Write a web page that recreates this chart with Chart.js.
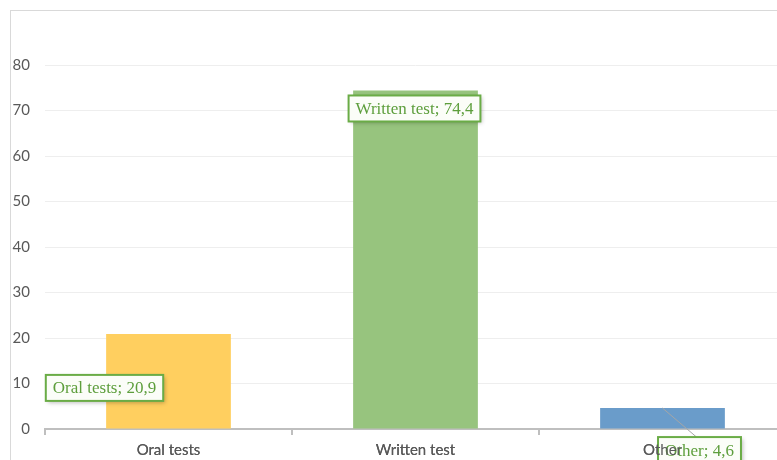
<!DOCTYPE html>
<html>
<head>
<meta charset="utf-8">
<script src="https://cdn.jsdelivr.net/npm/chart.js@4"></script>
<style>
  html, body { margin: 0; padding: 0; background: #fff; overflow: hidden; width: 777px; height: 460px; }
  #frame { position: absolute; left: 10px; top: 10px; width: 900px; height: 600px; border-left: 1px solid #d9d9d9; border-top: 1px solid #d9d9d9; }
  #wrap { position: absolute; left: 0; top: 0; width: 800px; height: 480px; }
</style>
</head>
<body>
<div id="frame"></div>
<div id="wrap"><canvas id="chart"></canvas></div>
<script>
// chart data
const categories = ['Oral tests', 'Written test', 'Other'];
const values = [20.9, 74.4, 4.6];
const barColors = ['#ffcf5f', '#97c47e', '#6a9cca'];
const yTicks = [0, 10, 20, 30, 40, 50, 60, 70, 80];

// callout labels like "Oral tests; 20,9"
const calloutPlugin = {
  id: 'callouts',
  afterDatasetsDraw(chart, args, opts) {
    const ctx = chart.ctx;
    const meta = chart.getDatasetMeta(0);
    ctx.save();
    ctx.font = opts.font;
    meta.data.forEach((bar, i) => {
      const text = categories[i] + '; ' + values[i].toFixed(1).replace('.', ',');
      const w = ctx.measureText(text).width + 14;
      const h = 26;
      const cx = bar.x + opts.offsets[i][0];
      const cy = bar.y + opts.offsets[i][1];
      if (opts.leader[i]) {
        ctx.strokeStyle = '#a6a6a6';
        ctx.lineWidth = 1;
        ctx.beginPath();
        ctx.moveTo(bar.x, bar.y);
        ctx.lineTo(cx - 3, cy - h / 2);
        ctx.stroke();
      }
      ctx.shadowColor = 'rgba(0,0,0,0.25)';
      ctx.shadowBlur = 4;
      ctx.shadowOffsetX = 2;
      ctx.shadowOffsetY = 2;
      ctx.fillStyle = '#fbfdf8';
      ctx.fillRect(cx - w / 2, cy - h / 2, w, h);
      ctx.shadowColor = 'transparent';
      ctx.strokeStyle = '#6aac46';
      ctx.lineWidth = 2;
      ctx.strokeRect(cx - w / 2, cy - h / 2, w, h);
      ctx.fillStyle = '#5d9e3c';
      ctx.textAlign = 'center';
      ctx.textBaseline = 'middle';
      ctx.fillText(text, cx, cy + 1);
    });
    ctx.restore();
    // the category labels sit on top of the callouts
    chart.scales.x.drawLabels(chart.chartArea);
  }
};

new Chart(document.getElementById('chart'), {
  type: 'bar',
  data: {
    labels: categories,
    datasets: [{ data: values, backgroundColor: barColors, borderWidth: 0, categoryPercentage: 1, barPercentage: 0.505 }]
  },
  options: {
    responsive: true,
    maintainAspectRatio: false,
    animation: false,
    layout: { padding: { top: 65, right: 14, left: 0, bottom: 0 } },
    plugins: {
      legend: { display: false },
      tooltip: { enabled: false },
      callouts: {
        font: '17px "Liberation Serif", serif',
        offsets: [[-64, 54], [-1, 18], [37, 42]],
        leader: [false, false, true]
      }
    },
    scales: {
      x: {
        grid: { offset: true, drawOnChartArea: false, tickLength: 6, color: '#bfbfbf', lineWidth: 2 },
        border: { color: '#bfbfbf', width: 2 },
        ticks: { color: '#595959', font: { family: 'Lato', size: 15 }, padding: 6 },
        afterFit: s => { s.height = 51; }
      },
      y: {
        min: 0,
        max: 80,
        afterBuildTicks: s => { s.ticks = yTicks.map(v => ({ value: v })); },
        grid: { color: '#eeeeee', lineWidth: 1, drawTicks: false },
        border: { display: false },
        ticks: { color: '#595959', font: { family: 'Lato', size: 15 }, padding: 15 },
        afterFit: s => { s.width = 45; }
      }
    }
  },
  plugins: [calloutPlugin]
});
</script>
</body>
</html>
